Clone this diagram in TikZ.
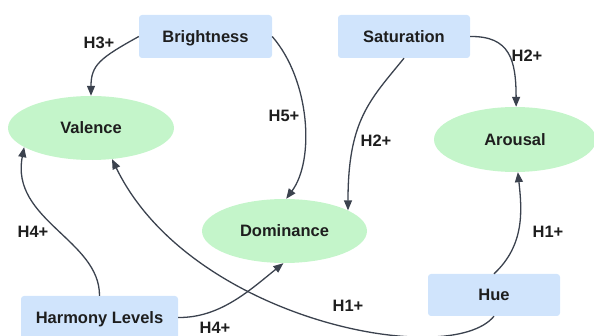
\documentclass[tikz,border=0pt]{standalone}
\usepackage{fontspec}
\setmainfont{Liberation Sans}
\usetikzlibrary{shapes.geometric,arrows.meta}
\definecolor{boxblue}{HTML}{D0E4FC}
\definecolor{ellgreen}{HTML}{C4F5CA}
\definecolor{edgec}{HTML}{3B424E}
\definecolor{txt}{HTML}{1E1E1E}
\begin{document}
\begin{tikzpicture}[x=1pt,y=-1pt,
  font=\fontsize{16.5}{19}\selectfont\bfseries, text=txt,
  fixtext/.style={text height=11.8pt, text depth=0pt},
  boxnode/.style={rectangle, rounded corners=3pt, fill=boxblue, draw=none, inner sep=0pt, fixtext},
  ellnode/.style={ellipse, fill=ellgreen, draw=none, inner sep=0pt, fixtext},
  conn/.style={draw=edgec, line width=1.3pt, -{Triangle[length=10pt,width=8pt]}},
  lbl/.style={inner sep=0pt, fixtext}]
\useasboundingbox (0,0) rectangle (594,336);
% boxes
\node[boxnode, minimum width=133pt, minimum height=43pt] (bright) at (205.5,36.5) {Brightness};
\node[boxnode, minimum width=132pt, minimum height=43pt] (sat) at (404,36.5) {Saturation};
\node[boxnode, minimum width=157pt, minimum height=43pt] (harm) at (99.5,317.5) {Harmony Levels};
\node[boxnode, minimum width=132pt, minimum height=42pt] (hue) at (494,295) {Hue};
% ellipses
\node[ellnode, minimum width=166pt, minimum height=64pt] (val) at (91,128) {Valence};
\node[ellnode, minimum width=165pt, minimum height=64pt] (dom) at (284.5,231) {Dominance};
\node[ellnode, minimum width=162pt, minimum height=65pt] (aro) at (515,139.5) {Arousal};
% connectors
\draw[conn] (bright.west) .. controls (100,58) and (91,65) .. (val.north);
\draw[conn] (bright.east) .. controls (310,80) and (315,160) .. (dom.87);
\draw[conn] (sat.east) .. controls (510,36) and (516,60) .. (aro.88);
\draw[conn] (sat.south) .. controls (370,100) and (348,120) .. (dom.18);
\draw[conn] (hue.north) .. controls (525,245) and (522,210) .. (aro.-85);
\draw[conn] (hue.south) .. controls (450,370) and (190,320) .. (val.-56);
\draw[conn] (harm.north) .. controls (100,240) and (10,220) .. (val.196);
\draw[conn] (harm.east) .. controls (220,318) and (250,290) .. (dom.-92);
% labels
\node[lbl] (l1) at (99,43) {H3+};
\node[lbl] (l2) at (284,116) {H5+};
\node[lbl] (l3) at (527,56) {H2+};
\node[lbl] (l4) at (376,141) {H2+};
\node[lbl] (l5) at (33,232) {H4+};
\node[lbl] (l6) at (215,328) {H4+};
\node[lbl] (l7) at (548,232) {H1+};
\node[lbl] (l8) at (348,306) {H1+};
\end{tikzpicture}
\end{document}
